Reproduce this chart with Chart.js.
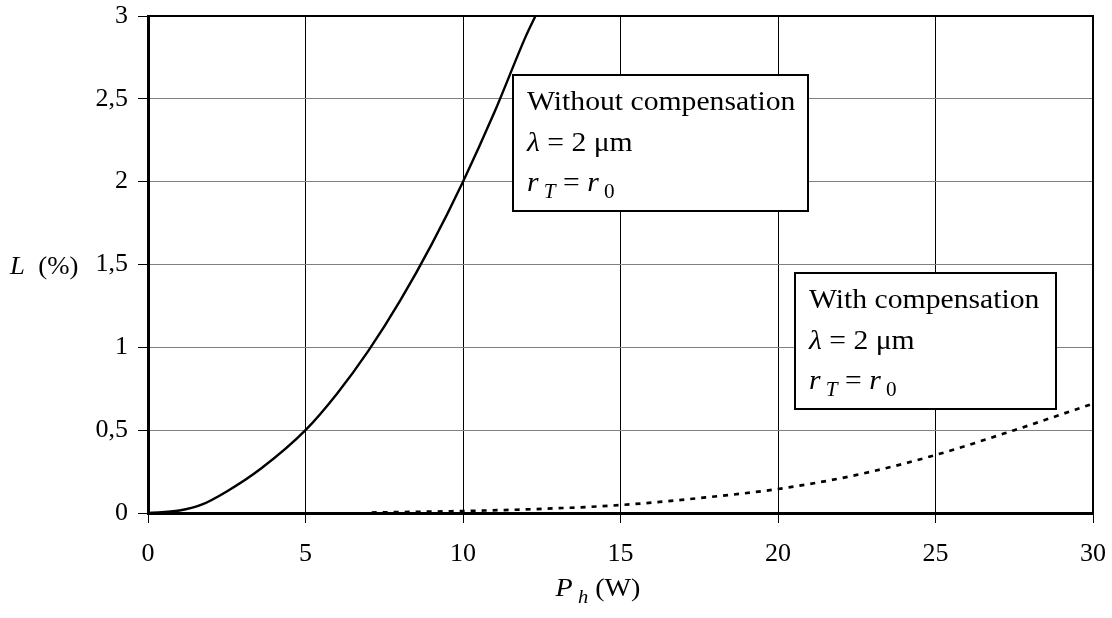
<!DOCTYPE html>
<html>
<head>
<meta charset="utf-8">
<script src="https://cdn.jsdelivr.net/npm/chart.js@4.4.1/dist/chart.umd.min.js"></script>
<style>
  html, body { margin: 0; padding: 0; background: #fff; }
  #wrap { width: 1112px; height: 618px; }
</style>
</head>
<body>
<div id="wrap"><canvas id="myChart" width="1112" height="618"></canvas></div>
<script>
// P_h (W) and L (%)
var powerNoComp = [0, 1, 1.7, 2.5, 3.6, 5, 6, 7, 8, 9, 10, 11, 12, 12.3];
var lossNoComp = [0, 0.015, 0.05, 0.13, 0.27, 0.5, 0.72, 0.98, 1.28, 1.62, 2.0, 2.42, 2.88, 3.0];
var powerComp = [7.1, 10, 12.5, 15, 17.5, 20, 22.5, 25, 27.5, 30];
var lossComp = [0.003, 0.012, 0.025, 0.048, 0.09, 0.145, 0.23, 0.35, 0.5, 0.66];
var xTicks = [0, 5, 10, 15, 20, 25, 30];
var yTicks = [0, 0.5, 1, 1.5, 2, 2.5, 3];

const serif = "'Liberation Serif', 'DejaVu Serif', serif";

function toPoints(xs, ys) {
  var arr = [];
  for (let i = 0; i < xs.length; i++) arr.push({ x: xs[i], y: ys[i] });
  return arr;
}

function partFont(p, size) {
  var s = p.sub ? Math.round(size * 0.72) : size;
  return (p.it ? "italic " : "") + s + "px " + serif;
}

function textWidth(ctx, parts, size) {
  var w = 0;
  for (const p of parts) {
    ctx.font = partFont(p, size);
    w += ctx.measureText(p.t).width;
  }
  return w;
}

// draws a row of text pieces: {t, it, sub}; sx stretches it sideways
function richText(ctx, parts, x, y, size, sx) {
  sx = sx || 1;
  ctx.save();
  ctx.translate(x, y);
  ctx.scale(sx, 1);
  ctx.textBaseline = "alphabetic";
  ctx.textAlign = "left";
  var cx = 0;
  for (const p of parts) {
    ctx.font = partFont(p, size);
    ctx.fillText(p.t, cx, p.sub ? size * 0.25 : 0);
    cx += ctx.measureText(p.t).width;
  }
  ctx.restore();
}

const lambdaLine = [{ t: "λ", it: true }, { t: " = 2 μm" }];
const radiusLine = [{ t: "r", it: true }, { t: " T", it: true, sub: true }, { t: " = " }, { t: "r", it: true }, { t: " 0", sub: true }];

const boxes = [
  { x: 513, y: 75, w: 295, h: 136, lines: [[{ t: "Without compensation" }], lambdaLine, radiusLine] },
  { x: 795, y: 273, w: 261, h: 136, lines: [[{ t: "With compensation" }], lambdaLine, radiusLine] },
];

const decorPlugin = {
  id: "decor",
  afterDatasetsDraw(chart) {
    const ctx = chart.ctx;
    const a = chart.chartArea;
    ctx.save();
    // frame top and right
    ctx.strokeStyle = "#000";
    ctx.lineWidth = 2;
    ctx.beginPath();
    ctx.moveTo(a.left, a.top);
    ctx.lineTo(a.right, a.top);
    ctx.lineTo(a.right, a.bottom);
    ctx.stroke();

    // annotation boxes
    for (const b of boxes) {
      ctx.fillStyle = "#fff";
      ctx.fillRect(b.x, b.y, b.w, b.h);
      ctx.strokeStyle = "#000";
      ctx.lineWidth = 2;
      ctx.strokeRect(b.x, b.y, b.w, b.h);
      ctx.fillStyle = "#000";
      for (let i = 0; i < b.lines.length; i++) {
        richText(ctx, b.lines[i], b.x + 14, b.y + 35 + i * 40.5, 28, 1.06);
      }
    }

    // axis titles
    ctx.fillStyle = "#000";
    const xt = [{ t: "P", it: true }, { t: " h", it: true, sub: true }, { t: " (W)" }];
    const w = textWidth(ctx, xt, 26) * 1.08;
    richText(ctx, xt, 598 - w / 2, 596, 26, 1.08);
    const yScale = chart.scales.y;
    richText(ctx, [{ t: "L", it: true }, { t: "  (%)" }], 10, yScale.getPixelForValue(1.5) + 9, 26, 1.03);
    ctx.restore();
  },
};

const config = {
  type: "line",
  data: {
    datasets: [
      {
        label: "Without compensation",
        data: toPoints(powerNoComp, lossNoComp),
        borderColor: "#000",
        borderWidth: 2.4,
        pointRadius: 0,
        cubicInterpolationMode: "monotone",
      },
      {
        label: "With compensation",
        data: toPoints(powerComp, lossComp),
        borderColor: "#000",
        borderWidth: 2.7,
        borderDash: [5, 6],
        pointRadius: 0,
        cubicInterpolationMode: "monotone",
      },
    ],
  },
  options: {
    responsive: false,
    animation: false,
    layout: { padding: { top: 16, right: 19, left: 0, bottom: 0 } },
    plugins: {
      legend: { display: false },
      tooltip: { enabled: false },
    },
    scales: {
      x: {
        type: "linear",
        min: 0,
        max: 30,
        afterFit(scale) {
          scale.height = 105;
          scale.paddingLeft = 0;
          scale.paddingRight = 0;
        },
        afterBuildTicks(scale) { scale.ticks = xTicks.map(v => ({ value: v })); },
        grid: { color: "#000", lineWidth: 1, tickColor: "#000", tickLength: 10 },
        border: { color: "#000", width: 3 },
        ticks: { color: "#000", padding: 16, maxRotation: 0, font: { family: serif, size: 26 } },
      },
      y: {
        min: 0,
        max: 3,
        afterFit(scale) {
          scale.width = 148;
          scale.paddingTop = 0;
          scale.paddingBottom = 0;
        },
        afterBuildTicks(scale) { scale.ticks = yTicks.map(v => ({ value: v })); },
        grid: { color: "#808080", lineWidth: 1, tickColor: "#000", tickLength: 10 },
        border: { color: "#000", width: 3 },
        ticks: {
          color: "#000",
          padding: 10,
          font: { family: serif, size: 26 },
          callback: v => String(v).replace(".", ","),
        },
      },
    },
  },
  plugins: [decorPlugin],
};

const myChart = new Chart(document.getElementById("myChart"), config);
</script>
</body>
</html>
